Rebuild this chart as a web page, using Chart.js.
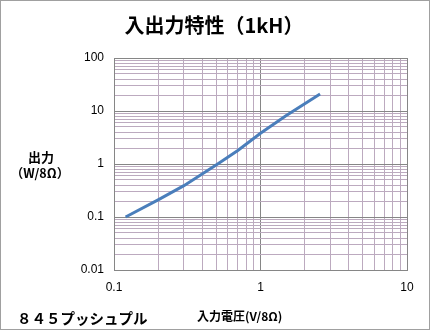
<!DOCTYPE html>
<html lang="ja">
<head>
<meta charset="UTF-8">
<title>入出力特性（1kH）</title>
<script src="https://cdn.jsdelivr.net/npm/chart.js"></script>
<style>
    body { margin: 0; padding: 0; background: #fff; }
    .frame {
        width: 430px; height: 330px;
        box-sizing: border-box;
        border: 1px solid #a0a0a0;
        background: #fff;
    }
    canvas { display: block; }
</style>
</head>
<body>
<div class="frame">
    <canvas id="chart" width="428" height="328"></canvas>
</div>
<script>
// 入力電圧 (V) / 出力 (W)
const inputV  = [0.12, 0.2, 0.3, 0.51, 0.7, 1.0, 1.5, 2.55];
const outputW = [0.1, 0.21, 0.39, 1.0, 1.8, 3.8, 8.2, 21];

const xDecades = [0.1, 1, 10];
const xTickLabels = ['0.1', '1', '10'];
const yDecades = [0.01, 0.1, 1, 10, 100];
const yTickLabels = ['0.01', '0.1', '1', '10', '100'];

const MAJOR = '#868686';
const MINOR = '#bcaabf';
const FONT = '"Liberation Sans", Arial, sans-serif';
const JP = '"Noto Sans CJK JP", sans-serif';

function logTicks(decades) {
    const out = [];
    for (let i = 0; i < decades.length; i++) {
        out.push({ value: decades[i] });
        if (i < decades.length - 1) {
            for (let m = 2; m <= 9; m++) out.push({ value: +(decades[i] * m).toPrecision(6) });
        }
    }
    return out;
}

function labelFor(decades, labels) {
    return v => {
        const i = decades.findIndex(d => Math.abs(d - v) < d * 1e-6);
        return i >= 0 ? labels[i] : '';
    };
}

function isMajor(decades, v) {
    return decades.some(d => Math.abs(d - v) < d * 1e-6);
}

const textPlugin = {
    id: 'texts',
    afterDraw(chart) {
        const c = chart.ctx;
        c.save();
        c.fillStyle = '#000';
        c.textBaseline = 'middle';
        c.textAlign = 'center';
        c.font = 'bold 20px ' + JP;
        c.fillText('入出力特性（1kH）', 213, 24);
        c.font = 'bold 13px ' + JP;
        c.fillText('出力', 40, 156);
        c.font = 'bold 12.5px ' + JP;
        c.fillText('（W/8Ω）', 39, 172);
        c.textAlign = 'left';
        c.font = 'bold 14.5px ' + JP;
        c.fillText('８４５プッシュプル', 16, 317);
        c.font = 'bold 12px ' + JP;
        c.fillText('入力電圧(V/8Ω)', 196, 315);
        c.restore();
    }
};

new Chart(document.getElementById('chart'), {
    type: 'line',
    data: {
        datasets: [{
            data: inputV.map((x, i) => ({ x: x, y: outputW[i] })),
            borderColor: '#4a7ebb',
            borderWidth: 3,
            pointRadius: 0,
            tension: 0,
            fill: false
        }]
    },
    options: {
        responsive: false,
        animation: false,
        layout: { padding: { top: 57, right: 22, bottom: 0, left: 0 } },
        plugins: { legend: { display: false }, tooltip: { enabled: false } },
        scales: {
            x: {
                type: 'logarithmic',
                min: 0.1, max: 10,
                afterBuildTicks: s => { s.ticks = logTicks(xDecades); },
                afterFit: s => { s.height = 59; },
                ticks: {
                    autoSkip: false, maxRotation: 0, padding: 10,
                    color: '#000',
                    font: { family: FONT, size: 12 },
                    callback: labelFor(xDecades, xTickLabels)
                },
                grid: {
                    drawTicks: false,
                    color: c => isMajor(xDecades, c.tick.value) ? MAJOR : MINOR
                },
                border: { color: MAJOR }
            },
            y: {
                type: 'logarithmic',
                min: 0.01, max: 100,
                afterBuildTicks: s => { s.ticks = logTicks(yDecades); },
                afterFit: s => { s.width = 113; },
                ticks: {
                    autoSkip: false, padding: 10,
                    color: '#000',
                    font: { family: FONT, size: 12 },
                    callback: labelFor(yDecades, yTickLabels)
                },
                grid: {
                    drawTicks: false,
                    color: c => isMajor(yDecades, c.tick.value) ? MAJOR : MINOR
                },
                border: { color: MAJOR }
            }
        }
    },
    plugins: [textPlugin]
});
</script>
</body>
</html>
